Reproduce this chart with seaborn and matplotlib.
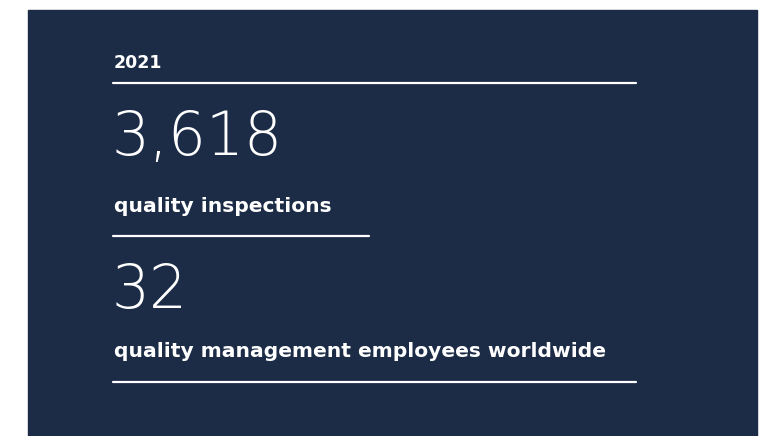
import pandas as pd
import seaborn as sns
import matplotlib.pyplot as plt
from matplotlib.patches import Rectangle

# Key figures
year = "2021"
stat_values = [3618, 32]
stat_labels = ["quality inspections", "quality management employees worldwide"]

# Layout (pixels, y from top)
panel_color = "#1c2c47"
text_x = 114
year_y = 68
value_y = [155, 308]
label_y = [212, 357]
rule_y = [83, 236, 382]
rule_x0 = 113
rule_x1 = [636, 369, 636]

sns.set_theme(style="white")
plt.rcParams["font.family"] = ["DejaVu Sans"]

fig = plt.figure(figsize=(7.64, 4.36), dpi=100, facecolor="white")
ax = fig.add_axes([0, 0, 1, 1])

# dark panel
ax.add_patch(Rectangle((28, 10), 729, 430, color=panel_color, zorder=0))

# white rules
rules = pd.DataFrame({
    "rule": [i for i in range(len(rule_y)) for _ in range(2)],
    "x": [v for x1 in rule_x1 for v in (rule_x0, x1)],
    "y": [v for y in rule_y for v in (y, y)],
})
sns.lineplot(data=rules, x="x", y="y", units="rule", estimator=None,
             color="white", linewidth=1.6, ax=ax, zorder=2)
ax.set_xlim(0, 764)
ax.set_ylim(436, 0)
ax.axis("off")

ax.text(text_x, year_y, year, color="white", fontsize=12.5,
        fontweight="bold", va="baseline", ha="left")

for val, lab, vy, ly in zip(stat_values, stat_labels, value_y, label_y):
    ax.text(text_x - 2, vy, f"{val:,}", color="white", fontsize=43,
            family="DejaVu Sans", fontweight="light", va="baseline", ha="left")
    ax.text(text_x, ly, lab, color="white", fontsize=14.6,
            fontweight="bold", va="baseline", ha="left")

fig.savefig("out.png", dpi=100, facecolor="white")
